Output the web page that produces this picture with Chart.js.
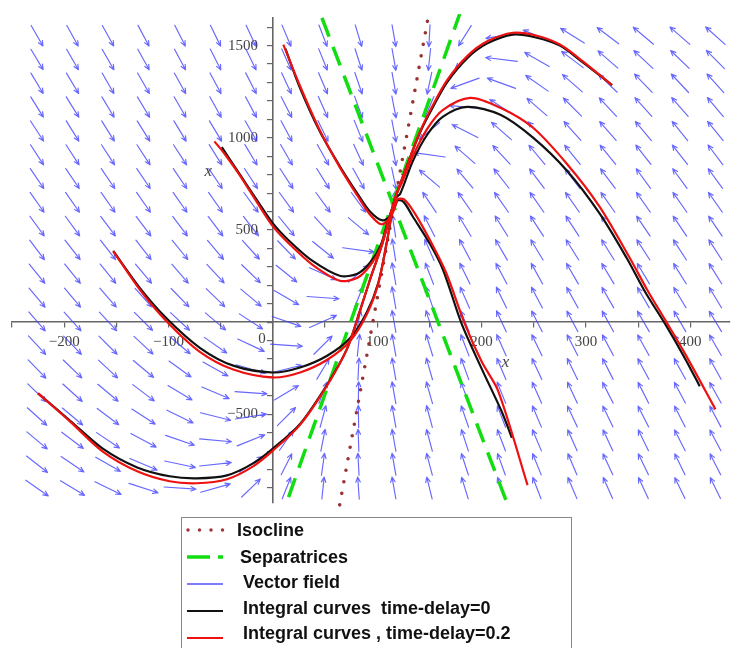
<!DOCTYPE html>
<html>
<head>
<meta charset="utf-8">
<script src="https://cdn.jsdelivr.net/npm/chart.js@4.4.1/dist/chart.umd.min.js"></script>
<style>
body { margin: 0; background: #fff; }
#wrap { position: relative; width: 733px; height: 648px; overflow: hidden; }
.legend { position: absolute; left: 181px; top: 517px; width: 391px; height: 150px; border: 1px solid #888; box-sizing: border-box; }
.item { position: absolute; font: bold 18px "Liberation Sans", Arial, sans-serif; color: #111; line-height: 20px; white-space: pre; }
.sym { position: absolute; }
</style>
</head>
<body>
<div id="wrap">
<canvas id="phase" width="733" height="648"></canvas>
<div class="legend"></div>
<svg class="sym" style="left:184px;top:524px" width="44" height="12"><line x1="4" y1="6" x2="40" y2="6" stroke="#a03535" stroke-width="3.5" stroke-linecap="round" stroke-dasharray="0 11.5"/></svg>
<svg class="sym" style="left:184px;top:551px" width="44" height="12"><line x1="3" y1="6" x2="39" y2="6" stroke="#11dd11" stroke-width="3.5" stroke-dasharray="23 8 5 20"/></svg>
<svg class="sym" style="left:184px;top:578px" width="44" height="12"><line x1="3" y1="6" x2="39" y2="6" stroke="#5050ff" stroke-width="1.6"/></svg>
<svg class="sym" style="left:184px;top:605px" width="44" height="12"><line x1="3" y1="6" x2="39" y2="6" stroke="#111" stroke-width="2.2"/></svg>
<svg class="sym" style="left:184px;top:632px" width="44" height="12"><line x1="3" y1="6" x2="39" y2="6" stroke="#ee1111" stroke-width="2.2"/></svg>
<div class="item" style="left:237px;top:520px">Isocline</div>
<div class="item" style="left:240px;top:547px">Separatrices</div>
<div class="item" style="left:243px;top:572px">Vector field</div>
<div class="item" style="left:243px;top:598px">Integral curves  time-delay=0</div>
<div class="item" style="left:243px;top:623px">Integral curves , time-delay=0.2</div>
</div>
<script>
// axis extents
var xMin = -250, xMax = 438;
var yMin = -981, yMax = 1650;

// vector field grid (centres) and arrow directions in degrees
var fieldX = [-226, -192, -158, -124, -89, -55, -21, 13, 48, 82, 116, 150, 184, 219, 253, 287, 321, 355, 390, 424];
var fieldY = [1554, 1425, 1296, 1167, 1037, 908, 779, 650, 521, 392, 263, 133, 4, -125, -254, -383, -512, -641, -771, -900];
var fieldAngles = [
    [-60, -61, -61, -62, -63, -64, -65, -67, -69, -73, -80, -93, -122, -170, 158, 148, 143, 140, 139, 138],
    [-59, -60, -60, -61, -62, -63, -64, -66, -68, -72, -80, -96, -137, 173, 150, 143, 139, 137, 136, 135],
    [-59, -59, -60, -60, -61, -62, -63, -65, -67, -71, -80, -102, -160, 160, 145, 139, 136, 134, 133, 132],
    [-58, -58, -59, -59, -60, -61, -62, -63, -66, -70, -79, -113, 174, 147, 139, 135, 133, 132, 131, 130],
    [-57, -58, -58, -58, -59, -59, -60, -62, -64, -68, -79, -140, 153, 139, 134, 132, 131, 130, 129, 129],
    [-57, -57, -57, -57, -57, -58, -59, -60, -61, -65, -79, 172, 139, 133, 130, 129, 129, 128, 128, 127],
    [-56, -56, -56, -56, -56, -56, -57, -57, -58, -61, -78, 140, 130, 128, 127, 127, 127, 126, 126, 126],
    [-55, -55, -55, -55, -55, -55, -54, -54, -54, -54, 83, 124, 125, 125, 125, 125, 125, 125, 125, 125],
    [-54, -54, -53, -53, -53, -53, -52, -51, -48, -40, 99, 117, 121, 122, 123, 123, 123, 124, 124, 124],
    [-53, -52, -52, -52, -51, -50, -48, -46, -39, -8, 99, 114, 118, 120, 121, 122, 122, 123, 123, 123],
    [-51, -51, -51, -50, -49, -47, -44, -39, -24, 40, 100, 111, 116, 118, 119, 120, 121, 121, 122, 122],
    [-50, -50, -49, -48, -46, -44, -40, -30, -4, 68, 100, 109, 114, 116, 118, 119, 120, 120, 121, 121],
    [-49, -48, -47, -45, -43, -40, -33, -19, 24, 78, 100, 108, 112, 115, 117, 118, 119, 120, 120, 121],
    [-47, -46, -45, -43, -40, -35, -25, -4, 45, 84, 100, 107, 111, 114, 116, 117, 118, 119, 119, 120],
    [-46, -44, -43, -40, -36, -29, -16, 14, 59, 87, 100, 106, 110, 113, 115, 116, 117, 118, 119, 119],
    [-44, -42, -40, -37, -31, -23, -4, 31, 69, 89, 100, 106, 110, 112, 114, 115, 117, 117, 118, 119],
    [-42, -40, -37, -33, -26, -14, 9, 45, 75, 91, 100, 105, 109, 111, 113, 115, 116, 117, 117, 118],
    [-40, -37, -34, -28, -19, -5, 22, 55, 79, 92, 100, 105, 108, 111, 113, 114, 115, 116, 117, 118],
    [-38, -34, -30, -23, -12, 6, 34, 63, 82, 93, 100, 105, 108, 110, 112, 113, 115, 116, 116, 117],
    [-35, -31, -26, -18, -4, 16, 44, 68, 84, 94, 100, 104, 107, 110, 111, 113, 114, 115, 116, 116]
];

// integral curves, time-delay = 0 (black)
var blackA = [[-225, -386], [-194, -536], [-163, -686], [-130, -788], [-99, -836], [-73, -847], [-44, -831], [-19, -766],
    [0, -686], [26, -552], [52, -338], [71, -145], [83, 54], [93, 230], [105, 429], [117, 670], [129, 857], [141, 1029],
    [153, 1163], [167, 1302], [186, 1431], [205, 1511], [230, 1560], [253, 1543], [275, 1500], [297, 1409], [325, 1286]];
var blackB = [[-153, 386], [-127, 182], [-102, 21], [-70, -139], [-38, -236], [0, -273], [26, -246], [52, -182], [74, -86],
    [90, 54], [101, 214], [109, 429], [117, 670], [122, 697], [134, 873], [148, 1018], [163, 1115], [186, 1168], [218, 1125],
    [249, 1002], [282, 820], [313, 590], [339, 348], [357, 161], [376, -11], [395, -198], [409, -348]];
var blackC = [[-49, 949], [-32, 804], [-15, 659], [0, 536], [16, 439], [38, 332], [64, 252], [81, 263], [93, 322], [103, 413],
    [112, 579], [119, 659], [125, 654], [134, 573], [150, 429], [163, 284], [181, -11], [200, -252], [219, -482], [229, -627]];
var blackD = [[12, 1484], [26, 1270], [45, 1034], [64, 847], [81, 697], [93, 600], [105, 552], [113, 579], [119, 659]];

// integral curves, time-delay = 0.2 (red)
var redA = [[-225, -386], [-194, -541], [-163, -702], [-130, -809], [-99, -863], [-73, -874], [-44, -852], [-19, -782],
    [0, -697], [26, -557], [52, -343], [71, -145], [83, 54], [93, 230], [105, 429], [117, 670], [129, 857], [141, 1034],
    [153, 1174], [167, 1313], [186, 1442], [205, 1522], [230, 1570], [253, 1554], [275, 1506], [297, 1415], [325, 1286]];
var redB = [[-153, 386], [-127, 172], [-102, 5], [-70, -161], [-38, -257], [0, -300], [26, -273], [52, -204], [74, -102],
    [90, 43], [101, 209], [109, 429], [117, 670], [124, 761], [134, 900], [148, 1050], [163, 1152], [189, 1217], [218, 1163],
    [249, 1056], [282, 857], [313, 627], [342, 348], [359, 172], [376, 11], [395, -172], [424, -472]];
var redC = [[-56, 981], [-46, 911], [-32, 799], [-15, 648], [0, 520], [16, 423], [38, 311], [64, 225], [81, 241], [93, 306],
    [103, 402], [112, 573], [119, 665], [126, 665], [136, 590], [152, 429], [166, 268], [184, -11], [200, -214], [216, -375], [244, -884]];
var redD = [[10, 1506], [26, 1281], [45, 1040], [64, 841], [81, 686], [93, 584], [104, 531], [113, 573], [119, 659]];

// straight lines
var sepFalling = [[47, 1651], [225, -991]];
var sepRising = [[15, -949], [179, 1672]];
var isocline = [[64, -991], [149, 1661]];

function pts(list) {
    return list.map(function (p) { return {x: p[0], y: p[1]}; });
}

function curve(list, color) {
    return {
        data: pts(list),
        borderColor: color,
        borderWidth: 2.2,
        pointRadius: 0,
        tension: 0.3,
        fill: false,
        clip: 3
    };
}

function fmt(v) {
    return v < 0 ? '\u2212' + Math.abs(v) : String(v);
}

var fieldPlugin = {
    id: 'field',
    beforeDatasetsDraw: function (chart) {
        var ctx = chart.ctx;
        var xs = chart.scales.x, ys = chart.scales.y;
        ctx.save();
        ctx.strokeStyle = 'rgba(60,60,255,0.78)';
        ctx.lineWidth = 1.15;
        ctx.lineCap = 'round';
        for (var r = 0; r < fieldY.length; r++) {
            for (var c = 0; c < fieldX.length; c++) {
                var a = fieldAngles[r][c] * Math.PI / 180;
                var cs = Math.cos(a), sn = Math.sin(a);
                var len = 1 / Math.hypot(cs / 32, sn / 22);
                var ux = cs, uy = -sn;
                var cx = xs.getPixelForValue(fieldX[c]);
                var cy = ys.getPixelForValue(fieldY[r]);
                var tipX = cx + ux * len / 2, tipY = cy + uy * len / 2;
                ctx.beginPath();
                ctx.moveTo(cx - ux * len / 2, cy - uy * len / 2);
                ctx.lineTo(tipX, tipY);
                var back = Math.atan2(-uy, -ux);
                for (var s = -1; s <= 1; s += 2) {
                    var h = back + s * 0.42;
                    ctx.moveTo(tipX, tipY);
                    ctx.lineTo(tipX + 5.5 * Math.cos(h), tipY + 5.5 * Math.sin(h));
                }
                ctx.stroke();
            }
        }
        ctx.restore();
    }
};

var labelPlugin = {
    id: 'labels',
    afterDraw: function (chart) {
        var ctx = chart.ctx;
        var xs = chart.scales.x, ys = chart.scales.y;
        ctx.save();
        ctx.fillStyle = '#444';
        ctx.textAlign = 'center';
        ctx.textBaseline = 'middle';
        ctx.font = '15px "Liberation Serif", serif';
        ctx.fillText('0', xs.getPixelForValue(0) - 11, ys.getPixelForValue(0) + 17);
        ctx.font = 'italic 17px "Liberation Serif", serif';
        ctx.fillText('x', xs.getPixelForValue(223), ys.getPixelForValue(0) + 40);
        ctx.fillText('x', xs.getPixelForValue(-62), ys.getPixelForValue(815));
        ctx.restore();
    }
};

var sep1 = {data: pts(sepFalling), borderColor: '#11dd11', borderWidth: 3.5, borderDash: [20, 11], pointRadius: 0, clip: 4};
var sep2 = {data: pts(sepRising), borderColor: '#11dd11', borderWidth: 3.5, borderDash: [20, 11], pointRadius: 0, clip: 4};
var iso = {data: pts(isocline), borderColor: '#993333', borderWidth: 3.6, borderDash: [0, 11.7], borderCapStyle: 'round', pointRadius: 0, clip: 4};

var axisFont = {family: '"Liberation Serif", serif', size: 15};

new Chart(document.getElementById('phase'), {
    type: 'line',
    data: {
        datasets: [
            curve(redA, '#ee1111'), curve(redB, '#ee1111'), curve(redC, '#ee1111'), curve(redD, '#ee1111'),
            curve(blackA, '#111'), curve(blackB, '#111'), curve(blackC, '#111'), curve(blackD, '#111'),
            sep1, sep2, iso
        ]
    },
    options: {
        responsive: false,
        animation: false,
        devicePixelRatio: 1,
        events: [],
        layout: {padding: {left: 12, top: 12, right: 3, bottom: 145}},
        plugins: {legend: {display: false}, tooltip: {enabled: false}},
        scales: {
            x: {
                type: 'linear',
                min: xMin,
                max: xMax,
                position: {y: 0},
                afterFit: function (s) { s.height = 0; },
                border: {display: true, color: '#666', width: 1.6},
                grid: {drawOnChartArea: false, drawTicks: true, tickLength: 5, color: '#666', lineWidth: 1.2},
                ticks: {
                    stepSize: 50, maxTicksLimit: 100, autoSkip: false, maxRotation: 0, includeBounds: false,
                    padding: 6, color: '#444', font: axisFont,
                    callback: function (v) { return (v % 100 === 0 && v !== 0) ? fmt(v) : ''; }
                }
            },
            y: {
                type: 'linear',
                min: yMin,
                max: yMax,
                position: {x: 0},
                afterFit: function (s) { s.width = 0; },
                border: {display: true, color: '#666', width: 1.6},
                grid: {drawOnChartArea: false, drawTicks: true, tickLength: 5, color: '#666', lineWidth: 1.2},
                ticks: {
                    stepSize: 100, maxTicksLimit: 100, autoSkip: false, includeBounds: false,
                    padding: 9, color: '#444', font: axisFont,
                    // trailing en spaces keep the labels clear of the axis line
                    callback: function (v) { return (v % 500 === 0 && v !== 0) ? fmt(v) + '\u2002\u2002' : ''; }
                }
            }
        }
    },
    plugins: [fieldPlugin, labelPlugin]
});
</script>
</body>
</html>
